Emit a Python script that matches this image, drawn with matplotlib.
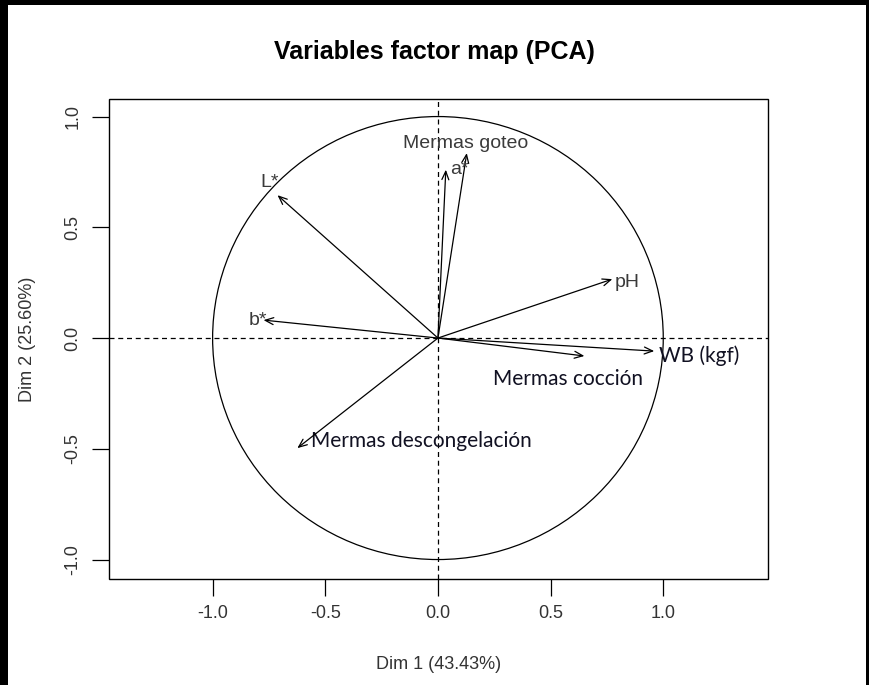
import matplotlib
matplotlib.use("Agg")
import matplotlib.pyplot as plt
from matplotlib.patches import Circle, Rectangle

# --- PCA variable coordinates (Dim 1, Dim 2) ---
variables = ["Mermas goteo", "a", "L", "b", "pH", "WB (kgf)", "Mermas cocción", "Mermas descongelación"]
dim1 = [0.128, 0.035, -0.712, -0.774, 0.774, 0.960, 0.650, -0.624]
dim2 = [0.835, 0.760, 0.645, 0.081, 0.266, -0.059, -0.081, -0.497]
dim1_pct = 43.43
dim2_pct = 25.60
ticks = [-1.0, -0.5, 0.0, 0.5, 1.0]

# label placement (text anchor relative to arrow tip, data units)
label_offsets = {
    "Mermas goteo": (-0.004, 0.045, "center", "center"),
    "a": (0.06, -0.0, "center", "center"),
    "L": (-0.035, 0.055, "center", "center"),
    "b": (-0.025, 0.0, "center", "center"),
    "pH": (0.009, -0.013, "left", "center"),
    "WB (kgf)": (0.022, -0.022, "left", "center"),
    "Mermas cocción": (-0.407, -0.104, "left", "center"),
    "Mermas descongelación": (0.062, 0.032, "left", "center"),
}
starred = {"a", "L", "b"}
overlay = {"WB (kgf)", "Mermas cocción", "Mermas descongelación"}

fig = plt.figure(figsize=(8.69, 6.85), dpi=100)
ax = fig.add_axes([0.1254, 0.1547, 0.7584, 0.7007])

ax.set_xlim(-1.46, 1.465)
ax.set_ylim(-1.088, 1.079)

ax.add_patch(Circle((0, 0), 1.0, fill=False, color="black", lw=0.9))
ax.axhline(0, color="black", lw=0.9, ls=(0, (4, 3)))
ax.axvline(0, color="black", lw=0.9, ls=(0, (4, 3)))

for name, x, y in zip(variables, dim1, dim2):
    dx, dy, ha, va = label_offsets[name]
    if name in overlay:
        ax.text(x + dx, y + dy, name, ha=ha, va=va, fontsize=15,
                family="Lato", color="#111122")
    else:
        label = name + "*" if name in starred else name
        ax.text(x + dx, y + dy, label, ha=ha, va=va, fontsize=14,
                family="Liberation Sans", color="#3a3a3a")
    ax.annotate("", xy=(x, y), xytext=(0, 0),
                arrowprops=dict(arrowstyle="->,head_length=0.6,head_width=0.25",
                                color="black", lw=0.9, shrinkA=0, shrinkB=0))

ax.set_xticks(ticks)
ax.set_yticks(ticks)
ax.set_xticklabels([f"{t:.1f}" for t in ticks], family="Liberation Sans", fontsize=13, color="#333333")
ax.set_yticklabels([f"{t:.1f}" for t in ticks], family="Liberation Sans", fontsize=13, color="#333333",
                   rotation=90, va="center")
ax.tick_params(axis="both", length=12, width=0.9, direction="out")
ax.tick_params(axis="x", pad=7)
ax.tick_params(axis="y", pad=8)
for s in ["top", "right", "left", "bottom"]:
    ax.spines[s].set_visible(False)
# R style box
ax.add_patch(Rectangle((0, 0), 1, 1, transform=ax.transAxes, fill=False, color="black", lw=1.0, clip_on=False))

ax.set_xlabel(f"Dim 1 ({dim1_pct:.2f}%)", family="Liberation Sans", fontsize=13, color="#333333", labelpad=24)
ax.set_ylabel(f"Dim 2 ({dim2_pct:.2f}%)", family="Liberation Sans", fontsize=13, color="#333333", labelpad=20)
fig.text(0.5, 1 - 52 / 685, "Variables factor map (PCA)", ha="center", va="center",
         family="Liberation Sans", fontweight="bold", fontsize=18)

# outer frame of the screenshot
fig.add_artist(Rectangle((0, 0), 8 / 869, 1, transform=fig.transFigure, color="black", lw=0))
fig.add_artist(Rectangle((0, 1 - 5 / 685), 1, 5 / 685, transform=fig.transFigure, color="black", lw=0))
fig.add_artist(Rectangle((1 - 3 / 869, 0), 3 / 869, 1, transform=fig.transFigure, color="black", lw=0))

fig.savefig("out.png", dpi=100)
